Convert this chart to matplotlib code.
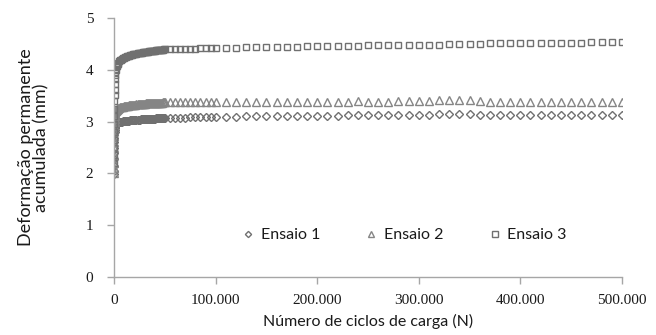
import matplotlib
matplotlib.use("Agg")
import matplotlib.pyplot as plt
from matplotlib.ticker import FuncFormatter

# ciclos de carga (N)
n_inicio = [10, 20, 30, 50, 75, 100, 150, 200, 300, 400, 500, 650, 800, 1000, 1250, 1500,
            2000, 2500, 3000, 3500, 4000, 5000] + list(range(6000, 50001, 1000))
n_meio = list(range(55000, 100001, 5000))
n_fim = list(range(110000, 500001, 10000))
ciclos = n_inicio + n_meio + n_fim

# deformacao permanente acumulada (mm)
ensaio1 = [1.98, 2.05, 2.15, 2.28, 2.4, 2.5, 2.6, 2.68, 2.75, 2.8, 2.84, 2.87, 2.9, 2.92, 2.94,
           2.95, 2.96, 2.97, 2.98, 2.98, 2.99, 2.99,
           3.0, 3.0, 3.0, 3.01, 3.01, 3.01, 3.02, 3.02, 3.02, 3.02,
           3.03, 3.03, 3.03, 3.03, 3.03, 3.03, 3.04, 3.04, 3.04, 3.04,
           3.05, 3.05, 3.05, 3.05, 3.05, 3.05, 3.05, 3.06, 3.06, 3.06,
           3.06, 3.06, 3.06, 3.06, 3.06, 3.07, 3.07, 3.07, 3.07, 3.07,
           3.07, 3.07, 3.08, 3.08, 3.08,
           3.08, 3.08, 3.08, 3.08, 3.09, 3.09, 3.09, 3.09, 3.09, 3.09,
           3.09, 3.09, 3.10, 3.10, 3.10, 3.10, 3.10, 3.11, 3.11, 3.11,
           3.11, 3.11, 3.12, 3.12, 3.12, 3.12, 3.12, 3.13, 3.13, 3.13,
           3.13, 3.14, 3.14, 3.14, 3.14, 3.13, 3.13, 3.13, 3.13, 3.13,
           3.13, 3.13, 3.13, 3.13, 3.13, 3.13, 3.13, 3.13, 3.13, 3.13]
ensaio2 = [2.0, 2.1, 2.2, 2.35, 2.5, 2.6, 2.72, 2.82, 2.92, 3.0, 3.05, 3.1, 3.13, 3.16, 3.18,
           3.2, 3.22, 3.23, 3.24, 3.25, 3.26, 3.27,
           3.28, 3.28, 3.29, 3.29, 3.3, 3.3, 3.31, 3.31, 3.31, 3.32,
           3.32, 3.32, 3.33, 3.33, 3.33, 3.33, 3.34, 3.34, 3.34, 3.34,
           3.35, 3.35, 3.35, 3.35, 3.35, 3.36, 3.36, 3.36, 3.36, 3.36,
           3.36, 3.36, 3.37, 3.37, 3.37, 3.37, 3.37, 3.37, 3.37, 3.37,
           3.37, 3.37, 3.38, 3.38, 3.38,
           3.38, 3.38, 3.38, 3.38, 3.38, 3.38, 3.38, 3.38, 3.38, 3.38,
           3.38, 3.38, 3.38, 3.38, 3.38, 3.38, 3.38, 3.38, 3.38, 3.38,
           3.38, 3.38, 3.38, 3.39, 3.38, 3.38, 3.38, 3.39, 3.39, 3.39,
           3.40, 3.41, 3.42, 3.42, 3.41, 3.39, 3.38, 3.38, 3.38, 3.38,
           3.38, 3.38, 3.38, 3.38, 3.38, 3.38, 3.38, 3.38, 3.38, 3.38]
ensaio3 = [2.2, 2.35, 2.5, 2.65, 2.8, 2.95, 3.1, 3.25, 3.4, 3.52, 3.62, 3.72, 3.82, 3.9, 3.96,
           4.0, 4.05, 4.08, 4.1, 4.12, 4.14, 4.17,
           4.19, 4.2, 4.21, 4.22, 4.23, 4.24, 4.25, 4.26, 4.27, 4.27,
           4.28, 4.29, 4.29, 4.3, 4.3, 4.31, 4.31, 4.32, 4.32, 4.33,
           4.33, 4.33, 4.34, 4.34, 4.34, 4.35, 4.35, 4.35, 4.36, 4.36,
           4.36, 4.37, 4.37, 4.37, 4.37, 4.38, 4.38, 4.38, 4.38, 4.39,
           4.39, 4.39, 4.39, 4.4, 4.4,
           4.40, 4.40, 4.40, 4.41, 4.41, 4.41, 4.42, 4.42, 4.42, 4.42,
           4.43, 4.43, 4.44, 4.44, 4.44, 4.45, 4.45, 4.45, 4.46, 4.46,
           4.46, 4.47, 4.47, 4.47, 4.48, 4.48, 4.48, 4.48, 4.49, 4.49,
           4.49, 4.49, 4.50, 4.50, 4.50, 4.50, 4.51, 4.51, 4.51, 4.51,
           4.51, 4.52, 4.52, 4.52, 4.52, 4.52, 4.53, 4.53, 4.53, 4.53]

nomes = ["Ensaio 1", "Ensaio 2", "Ensaio 3"]
marcas = ["D", "^", "s"]
tamanhos = [4.2, 5.2, 5.0]
cinzas = ["#707070", "#858585", "#707070"]
eixo = "#a6a6a6"

fig = plt.figure(figsize=(6.56, 3.35), dpi=100)
ax = fig.add_axes([0.174, 0.173, 0.774, 0.773])

for y, nome, m, s, c in zip([ensaio1, ensaio2, ensaio3], nomes, marcas, tamanhos, cinzas):
    ax.plot(ciclos, y, linestyle="none", marker=m, markersize=s,
            markerfacecolor="none", markeredgecolor=c, markeredgewidth=1.0,
            label=nome)

ax.set_xlim(0, 500000)
ax.set_ylim(0, 5)
ax.set_xticks(range(0, 500001, 100000))
ax.set_yticks(range(0, 6))
ax.xaxis.set_major_formatter(FuncFormatter(lambda v, p: f"{int(v):,}".replace(",", ".")))

for lado in ["top", "right"]:
    ax.spines[lado].set_visible(False)
for lado in ["left", "bottom"]:
    ax.spines[lado].set_color(eixo)
    ax.spines[lado].set_linewidth(1.0)
ax.tick_params(axis="both", direction="out", color=eixo, length=5, width=1.0,
               labelsize=11, labelcolor="#1a1a1a")
for t in ax.get_xticklabels() + ax.get_yticklabels():
    t.set_family("Liberation Serif")
ax.tick_params(axis="x", pad=7)
ax.tick_params(axis="y", pad=10)

ax.set_xlabel("Número de ciclos de carga (N)", family="Lato", fontsize=11.5,
              color="#1a1a1a", labelpad=5)
ax.set_ylabel("Deformação permanente\nacumulada (mm)", family="Lato", fontsize=13,
              color="#1a1a1a", labelpad=26, linespacing=0.95)

leg = ax.legend(loc="center", bbox_to_anchor=(0.571, 0.162), ncol=3, frameon=False,
                prop={"family": "Lato", "size": 11.5}, markerscale=0.75,
                handlelength=0.8, handletextpad=0.4, columnspacing=2.8)
for t in leg.get_texts():
    t.set_color("#1a1a1a")

fig.savefig("out.png", dpi=100)
